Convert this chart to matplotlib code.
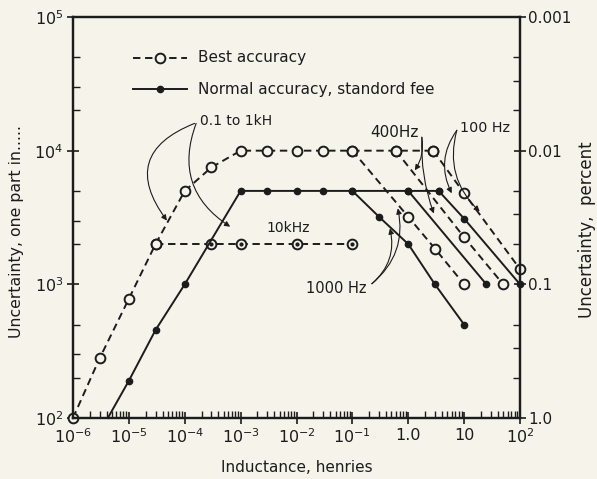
import matplotlib
matplotlib.use("Agg")
import matplotlib.pyplot as plt
from matplotlib.ticker import LogLocator, NullFormatter, FixedLocator, FixedFormatter

# ---- data (inductance in henries, uncertainty as "one part in N") ----
# best accuracy, 0.1 to 1 kHz
best_L = [1e-6, 3e-6, 1e-5, 3e-5, 1e-4, 3e-4, 1e-3, 3e-3, 1e-2, 3e-2, 1e-1, 0.6, 2.8]
best_N = [100, 280, 780, 2000, 5000, 7500, 1e4, 1e4, 1e4, 1e4, 1e4, 1e4, 1e4]
# best accuracy, 10 kHz
best_10k_L = [3e-5, 3e-4, 1e-3, 1e-2, 1e-1]
best_10k_N = [2000, 2000, 2000, 2000, 2000]
# best accuracy, high-inductance branches
best_1000_L = [0.1, 1.0, 3.0, 10]
best_1000_N = [1e4, 3200, 1850, 1000]
best_400_L = [0.6, 10, 50]
best_400_N = [1e4, 2250, 1000]
best_100_L = [2.8, 10, 100]
best_100_N = [1e4, 4800, 1300]

# normal accuracy, standard fee
norm_L = [4.2e-6, 1e-5, 3e-5, 1e-4, 1e-3, 3e-3, 1e-2, 3e-2, 1e-1, 1.0, 3.5]
norm_N = [100, 190, 455, 1000, 5000, 5000, 5000, 5000, 5000, 5000, 5000]
norm_1000_L = [0.1, 0.3, 1.0, 3.0, 10]
norm_1000_N = [5000, 3200, 2000, 1000, 500]
norm_400_L = [1.0, 25]
norm_400_N = [5000, 1000]
norm_100_L = [3.5, 10, 100]
norm_100_N = [5000, 3100, 1000]

x_ticks = [1e-6, 1e-5, 1e-4, 1e-3, 1e-2, 1e-1, 1, 10, 100]
x_labels = [r"$10^{-6}$", r"$10^{-5}$", r"$10^{-4}$", r"$10^{-3}$", r"$10^{-2}$",
            r"$10^{-1}$", "1.0", "10", r"$10^{2}$"]
y_ticks = [1e2, 1e3, 1e4, 1e5]
y_labels = [r"$10^{2}$", r"$10^{3}$", r"$10^{4}$", r"$10^{5}$"]
pct_ticks = [1.0, 0.1, 0.01, 0.001]
pct_labels = ["1.0", "0.1", "0.01", "0.001"]

BG = "#f6f3eb"
INK = "#1c1c1c"

plt.rcParams["font.family"] = ["DejaVu Sans"]
plt.rcParams["mathtext.fontset"] = "dejavusans"
plt.rcParams["text.color"] = INK

fig = plt.figure(figsize=(5.97, 4.79), dpi=100, facecolor=BG)
ax = fig.add_axes([73 / 597, 1 - 418 / 479, 447 / 597, 401 / 479])
ax.set_facecolor(BG)
ax.set_xscale("log")
ax.set_yscale("log")
ax.set_xlim(1e-6, 100)
ax.set_ylim(100, 1e5)

dash = (0, (3.8, 2.4))
open_kw = dict(marker="o", ms=7, mfc=BG, mec=INK, mew=1.4, clip_on=False)
dot_kw = dict(marker="o", ms=4.5, mfc=INK, mec=INK, clip_on=False)
lw = 1.4

# best accuracy (dashed, open circles)
ax.plot(best_L, best_N, color=INK, lw=lw, ls=dash, **open_kw)
ax.plot(best_10k_L, best_10k_N, color=INK, lw=lw, ls=dash, **open_kw)
ax.plot(best_10k_L[1:], best_10k_N[1:], ls="none", marker="o", ms=2, color=INK)
ax.plot(best_1000_L, best_1000_N, color=INK, lw=lw, ls=dash, **open_kw)
ax.plot(best_400_L, best_400_N, color=INK, lw=lw, ls=dash, **open_kw)
ax.plot(best_100_L, best_100_N, color=INK, lw=lw, ls=dash, **open_kw)

# normal accuracy (solid, filled dots)
ax.plot(norm_L, norm_N, color=INK, lw=lw, markevery=list(range(1, len(norm_L))), **dot_kw)
ax.plot(norm_1000_L, norm_1000_N, color=INK, lw=lw, **dot_kw)
ax.plot(norm_400_L, norm_400_N, color=INK, lw=lw, **dot_kw)
ax.plot(norm_100_L, norm_100_N, color=INK, lw=lw, **dot_kw)

# legend drawn by hand, as in the original
ax.plot([0.134, 0.255], [0.898, 0.898], transform=ax.transAxes, color=INK, lw=lw, ls=dash)
ax.plot([0.195], [0.898], transform=ax.transAxes, **open_kw)
ax.plot([0.134, 0.255], [0.820, 0.820], transform=ax.transAxes, color=INK, lw=lw)
ax.plot([0.195], [0.820], transform=ax.transAxes, **dot_kw)
ax.text(0.28, 0.898, "Best accuracy", transform=ax.transAxes, fontsize=11, va="center")
ax.text(0.28, 0.820, "Normal accuracy, standord fee", transform=ax.transAxes,
        fontsize=11, va="center")

# annotations
arrow = dict(arrowstyle="-|>", color=INK, lw=0.8, mutation_scale=8, shrinkA=0, shrinkB=0)
ax.text(1.9e-4, 1.66e4, "0.1 to 1kH", fontsize=10, va="center")
ax.annotate("", xy=(4.8e-5, 3000), xytext=(1.5e-4, 1.6e4),
            arrowprops=dict(connectionstyle="arc3,rad=0.65", **arrow))
ax.annotate("", xy=(6.5e-4, 2700), xytext=(1.6e-4, 1.6e4),
            arrowprops=dict(connectionstyle="arc3,rad=0.4", **arrow))
ax.text(2.95e-3, 2620, "10kHz", fontsize=10, va="center")
ax.text(1.48e-2, 930, "1000 Hz", fontsize=10.5, va="center")
ax.annotate("", xy=(0.47, 2620), xytext=(0.223, 1010),
            arrowprops=dict(connectionstyle="arc3,rad=0.3", **arrow))
ax.annotate("", xy=(0.65, 3700), xytext=(0.223, 1010),
            arrowprops=dict(connectionstyle="arc3,rad=0.3", **arrow))
ax.text(0.206, 1.37e4, "400Hz", fontsize=11, va="center")
ax.annotate("", xy=(1.31, 7130), xytext=(1.75, 1.26e4),
            arrowprops=dict(connectionstyle="arc3,rad=-0.2", **arrow))
ax.annotate("", xy=(2.87, 3390), xytext=(1.75, 1.26e4),
            arrowprops=dict(connectionstyle="arc3,rad=0.1", **arrow))
ax.text(8.4, 1.47e4, "100 Hz", fontsize=10.3, va="center")
ax.annotate("", xy=(6.0, 4800), xytext=(7.4, 1.42e4),
            arrowprops=dict(connectionstyle="arc3,rad=0.3", **arrow))
ax.annotate("", xy=(19, 3510), xytext=(7.4, 1.42e4),
            arrowprops=dict(connectionstyle="arc3,rad=0.3", **arrow))

# axes and ticks
for s in ax.spines.values():
    s.set_linewidth(1.6)
    s.set_color(INK)
ax.xaxis.set_major_locator(FixedLocator(x_ticks))
ax.xaxis.set_major_formatter(FixedFormatter(x_labels))
ax.xaxis.set_minor_locator(LogLocator(base=10, subs=(2, 3, 4, 5, 6, 7, 8, 9), numticks=20))
ax.xaxis.set_minor_formatter(NullFormatter())
ax.yaxis.set_major_locator(FixedLocator(y_ticks))
ax.yaxis.set_major_formatter(FixedFormatter(y_labels))
ax.yaxis.set_minor_locator(LogLocator(base=10, subs=(2, 3, 5), numticks=20))
ax.yaxis.set_minor_formatter(NullFormatter())
ax.tick_params(which="major", direction="inout", length=8, width=1.2, labelsize=11.5,
               colors=INK, pad=3)
ax.tick_params(which="minor", direction="in", length=5, width=1.0, colors=INK)

ax2 = ax.twinx()
ax2.set_yscale("log")
ax2.set_ylim(1.0, 0.001)
ax2.yaxis.set_major_locator(FixedLocator(pct_ticks))
ax2.yaxis.set_major_formatter(FixedFormatter(pct_labels))
ax2.yaxis.set_minor_locator(LogLocator(base=10, subs=(2, 3, 5), numticks=20))
ax2.yaxis.set_minor_formatter(NullFormatter())
ax2.tick_params(which="major", direction="inout", length=8, width=1.2, labelsize=11,
                colors=INK, pad=2)
ax2.tick_params(which="minor", direction="in", length=5, width=1.0, colors=INK)
for s in ax2.spines.values():
    s.set_linewidth(1.6)
    s.set_color(INK)

fig.text(297 / 597, 1 - 467 / 479, "Inductance, henries", fontsize=11,
         ha="center", va="center")
fig.text(17 / 597, 1 - 231 / 479, "Uncertainty, one part in.....", fontsize=11.3,
         ha="center", va="center", rotation=90)
fig.text(587 / 597, 1 - 230 / 479, "Uncertainty,  percent", fontsize=12,
         ha="center", va="center", rotation=90)

fig.savefig("out.png", dpi=100, facecolor=BG)
